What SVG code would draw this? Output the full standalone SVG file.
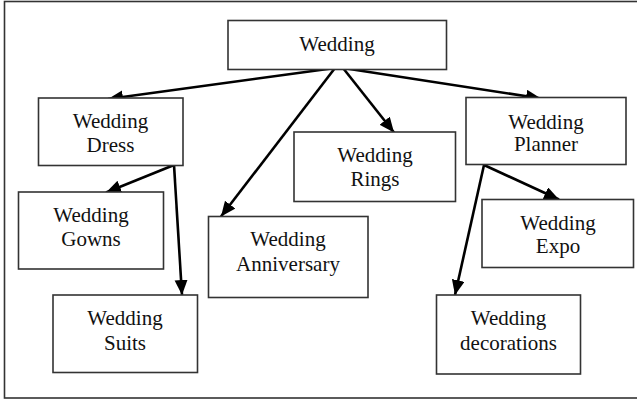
<svg xmlns="http://www.w3.org/2000/svg" width="637" height="400" viewBox="0 0 637 400">
  <style>
    .box { fill: #fff; stroke: #333; stroke-width: 1.6; }
    .lbl { font-family: "Liberation Serif", "Times New Roman", serif; font-size: 21px; fill: #111; text-anchor: middle; }
    .edge { stroke: #000; stroke-width: 2.6; fill: none; marker-end: url(#arr); }
  </style>
  <defs>
    <marker id="arr" markerUnits="userSpaceOnUse" markerWidth="17" markerHeight="14" refX="15" refY="6.5" orient="auto">
      <polygon points="0,0 15,6.5 0,13" fill="#000"/>
    </marker>
  </defs>
  <rect width="637" height="400" fill="#fff"/>
  <rect x="4.5" y="1.5" width="640" height="396.5" fill="none" stroke="#333" stroke-width="1.6"/>

  <g id="connectors">
    <line class="edge" x1="335" y1="68" x2="108" y2="99"/>
    <line class="edge" x1="335" y1="68" x2="221" y2="216.5"/>
    <line class="edge" x1="343" y1="68" x2="394" y2="132.5"/>
    <line class="edge" x1="343" y1="68" x2="541" y2="98.5"/>
    <line class="edge" x1="174" y1="165" x2="106" y2="192.5"/>
    <line class="edge" x1="174" y1="165" x2="182" y2="295"/>
    <line class="edge" x1="484" y1="165" x2="559" y2="199.5"/>
    <line class="edge" x1="484" y1="165" x2="455" y2="295"/>
  </g>

  <g id="wedding">
    <rect class="box" x="228" y="20.5" width="218.5" height="49"/>
    <text class="lbl" x="337" y="50.5">Wedding</text>
  </g>
  <g id="dress">
    <rect class="box" x="38.5" y="98" width="144.5" height="67.5"/>
    <text class="lbl" x="110.5" y="128">Wedding</text>
    <text class="lbl" x="110.5" y="152">Dress</text>
  </g>
  <g id="rings">
    <rect class="box" x="294" y="132" width="161.5" height="69.5"/>
    <text class="lbl" x="375" y="162">Wedding</text>
    <text class="lbl" x="375" y="185.5">Rings</text>
  </g>
  <g id="planner">
    <rect class="box" x="466" y="97.5" width="160" height="67"/>
    <text class="lbl" x="546" y="128.5">Wedding</text>
    <text class="lbl" x="546" y="151">Planner</text>
  </g>
  <g id="gowns">
    <rect class="box" x="18.5" y="192" width="145" height="77"/>
    <text class="lbl" x="91" y="222">Wedding</text>
    <text class="lbl" x="91" y="246">Gowns</text>
  </g>
  <g id="anniversary">
    <rect class="box" x="208.5" y="216.5" width="159.5" height="81"/>
    <text class="lbl" x="288" y="246">Wedding</text>
    <text class="lbl" x="288" y="271">Anniversary</text>
  </g>
  <g id="expo">
    <rect class="box" x="482" y="199.5" width="151.5" height="68"/>
    <text class="lbl" x="558" y="230">Wedding</text>
    <text class="lbl" x="558" y="253">Expo</text>
  </g>
  <g id="suits">
    <rect class="box" x="53" y="295" width="144.5" height="77.5"/>
    <text class="lbl" x="125" y="325">Wedding</text>
    <text class="lbl" x="125" y="350">Suits</text>
  </g>
  <g id="decorations">
    <rect class="box" x="436.5" y="295" width="144" height="79"/>
    <text class="lbl" x="508.5" y="325">Wedding</text>
    <text class="lbl" x="508.5" y="350">decorations</text>
  </g>
</svg>
